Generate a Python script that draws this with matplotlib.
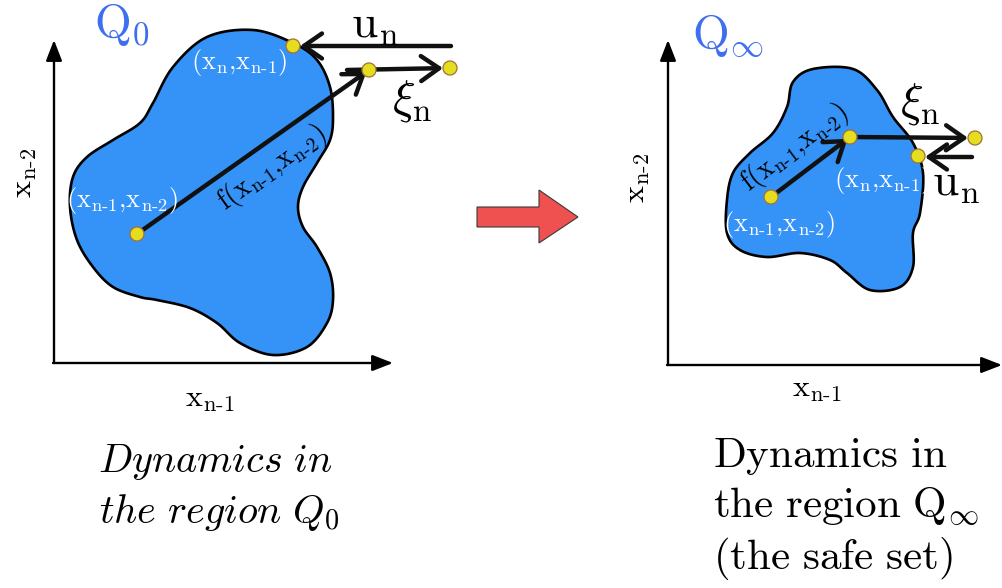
import numpy as np
import matplotlib
matplotlib.use("Agg")
import matplotlib.pyplot as plt
from matplotlib.patches import Polygon, Circle

plt.rcParams['mathtext.fontset'] = 'cm'
plt.rcParams['font.family'] = ['DejaVu Serif']

# ---- data (pixel space of the diagram) ----
blob_left_x = [253, 293, 317, 330, 333, 330, 317, 303, 298, 303, 317, 330, 333, 327, 307, 273,
               240, 217, 190, 157, 140, 113, 93, 77, 70, 73, 87, 113, 140, 153, 173, 207]
blob_left_y = [30, 43, 60, 87, 117, 140, 163, 187, 207, 227, 247, 273, 300, 323, 347, 355,
               343, 323, 308, 300, 297, 287, 267, 240, 207, 177, 157, 140, 123, 103, 67, 37]
blob_right_x = [813, 853, 877, 893, 913, 923, 920, 913, 913, 900, 870, 847, 830, 800, 767, 740,
                727, 727, 733, 750, 773, 787, 793]
blob_right_y = [69, 69, 90, 117, 143, 173, 213, 233, 267, 287, 290, 273, 260, 253, 257, 250,
                233, 200, 173, 153, 133, 107, 82]

# points: start, f(.) end, xi end, u point
left_pts_x = [137, 369, 450, 293]
left_pts_y = [234, 70, 68, 46]
right_pts_x = [771, 850, 975, 918]
right_pts_y = [197, 137, 138, 156]

BLUE = '#3592f7'
QBLUE = '#3f6ff0'
YEL = '#e5de1e'

XN1 = r'\mathrm{x}_{\mathrm{n}\text{-}1}'
XN2 = r'\mathrm{x}_{\mathrm{n}\text{-}2}'
XN = r'\mathrm{x}_{\mathrm{n}}'


def closed_spline(xs, ys, n=30):
    P = np.column_stack([xs, ys]).astype(float)
    m = len(P)
    out = []
    for i in range(m):
        p0, p1, p2, p3 = P[(i - 1) % m], P[i], P[(i + 1) % m], P[(i + 2) % m]
        t = np.linspace(0, 1, n, endpoint=False)[:, None]
        pts = 0.5 * ((2 * p1) + (-p0 + p2) * t + (2 * p0 - 5 * p1 + 4 * p2 - p3) * t ** 2 +
                     (-p0 + 3 * p1 - 3 * p2 + p3) * t ** 3)
        out.append(pts)
    return np.vstack(out)


fig = plt.figure(figsize=(10.02, 5.88), dpi=100)
ax = fig.add_axes([0, 0, 1, 1])
ax.set_xlim(0, 1002)
ax.set_ylim(588, 0)
ax.axis('off')

# blobs
for bx, by in [(blob_left_x, blob_left_y), (blob_right_x, blob_right_y)]:
    ax.add_patch(Polygon(closed_spline(bx, by), closed=True, facecolor=BLUE,
                         edgecolor='black', lw=1.9, zorder=1))

# coordinate axes
axprops = dict(arrowstyle='-|>,head_length=0.9,head_width=0.35', lw=1.7, color='black',
               shrinkA=0, shrinkB=0, mutation_scale=14)
ax.annotate('', xy=(54, 40), xytext=(54, 363), arrowprops=axprops, zorder=0)
ax.annotate('', xy=(393, 363), xytext=(53, 363), arrowprops=axprops, zorder=0)
ax.annotate('', xy=(668, 40), xytext=(668, 365), arrowprops=axprops, zorder=0)
ax.annotate('', xy=(1002, 365), xytext=(667, 365), arrowprops=axprops, zorder=0)

# dynamics arrows (open heads)
arr = dict(arrowstyle='->,head_length=13,head_width=9', lw=3.2, color='#111111',
           shrinkA=0, shrinkB=0, mutation_scale=1)

def arrow(x0, y0, x1, y1, shrink=7):
    d = np.hypot(x1 - x0, y1 - y0)
    ex, ey = x1 - (x1 - x0) / d * shrink, y1 - (y1 - y0) / d * shrink
    ax.annotate('', xy=(ex, ey), xytext=(x0, y0), arrowprops=arr, zorder=3)

# left panel
lx, ly = left_pts_x, left_pts_y
arrow(lx[0], ly[0], lx[1], ly[1], shrink=3)
arrow(347, ly[1], lx[2], ly[2])
arrow(451, ly[3], lx[3], ly[3])
# right panel
rx, ry = right_pts_x, right_pts_y
arrow(rx[0], ry[0], rx[1], ry[1], shrink=3)
arrow(rx[1], ry[1], rx[2], ry[2])
arrow(972, 157, rx[3], 157)

for px, py in list(zip(lx, ly)) + list(zip(rx, ry)):
    ax.add_patch(Circle((px, py), 7, facecolor=YEL, edgecolor='#a0703a', lw=0.9, zorder=5))

# big red arrow
red_arrow = np.array([[477, 207], [539, 207], [539, 190], [578, 217], [539, 243], [539, 227], [477, 227]])
ax.add_patch(Polygon(red_arrow, closed=True, facecolor='#ef5050', edgecolor='#3a3a3a', lw=0.8, zorder=2))

# labels
ax.text(122, 25, r'$\mathrm{Q}_0$', color=QBLUE, fontsize=34, ha='center', va='center')
ax.text(728, 36, r'$\mathrm{Q}_\infty$', color=QBLUE, fontsize=34, ha='center', va='center')

ax.text(375, 25, r'$\mathrm{u_n}$', fontsize=34, ha='center', va='center')
ax.text(412, 101, r'$\xi_\mathrm{n}$', fontsize=34, ha='center', va='center')
ax.text(920, 104, r'$\xi_\mathrm{n}$', fontsize=34, ha='center', va='center')
ax.text(956, 183, r'$\mathrm{u_n}$', fontsize=34, ha='center', va='center')

wl = dict(color='white', fontsize=19, ha='center', va='center')
ax.text(239, 62, rf'$\mathrm{{(}}{XN}{{,}}{XN1}\mathrm{{)}}$', **wl)
ax.text(122, 200, rf'$\mathrm{{(}}{XN1}{{,}}{XN2}\mathrm{{)}}$', **wl)
ax.text(882, 181, rf'$\mathrm{{(}}{XN}{{,}}{XN1}\mathrm{{)}}$', **wl)
ax.text(779, 224, rf'$\mathrm{{(}}{XN1}{{,}}{XN2}\mathrm{{)}}$', **wl)

flab = rf'$\mathrm{{f(}}{XN1}{{,}}{XN2}\mathrm{{)}}$'
ax.text(272, 168, flab, fontsize=20, rotation=35.4,
        rotation_mode='anchor', ha='center', va='center')
ax.text(795, 148, flab, fontsize=20, rotation=37,
        rotation_mode='anchor', ha='center', va='center')

ax.text(24, 173, rf'${XN2}$', fontsize=23, rotation=90, ha='center', va='center')
ax.text(637, 178, rf'${XN2}$', fontsize=23, rotation=90, ha='center', va='center')
ax.text(210, 398, rf'${XN1}$', fontsize=23, ha='center', va='center')
ax.text(817, 388, rf'${XN1}$', fontsize=23, ha='center', va='center')

capi = dict(fontsize=29, ha='left', va='baseline')
capr = dict(fontsize=31, ha='left', va='baseline')
ax.text(98, 472, r'$\mathit{Dynamics\ in}$', **capi)
ax.text(99, 523, r'$\mathit{the\ region}\ Q_0$', **capi)
ax.text(713, 467, r'$\mathrm{Dynamics\ in}$', **capr)
ax.text(713, 518, r'$\mathrm{the\ region\ Q_\infty}$', **capr)
ax.text(713, 569, r'$\mathrm{(the\ safe\ set)}$', **capr)

fig.savefig('out.png', dpi=100)
